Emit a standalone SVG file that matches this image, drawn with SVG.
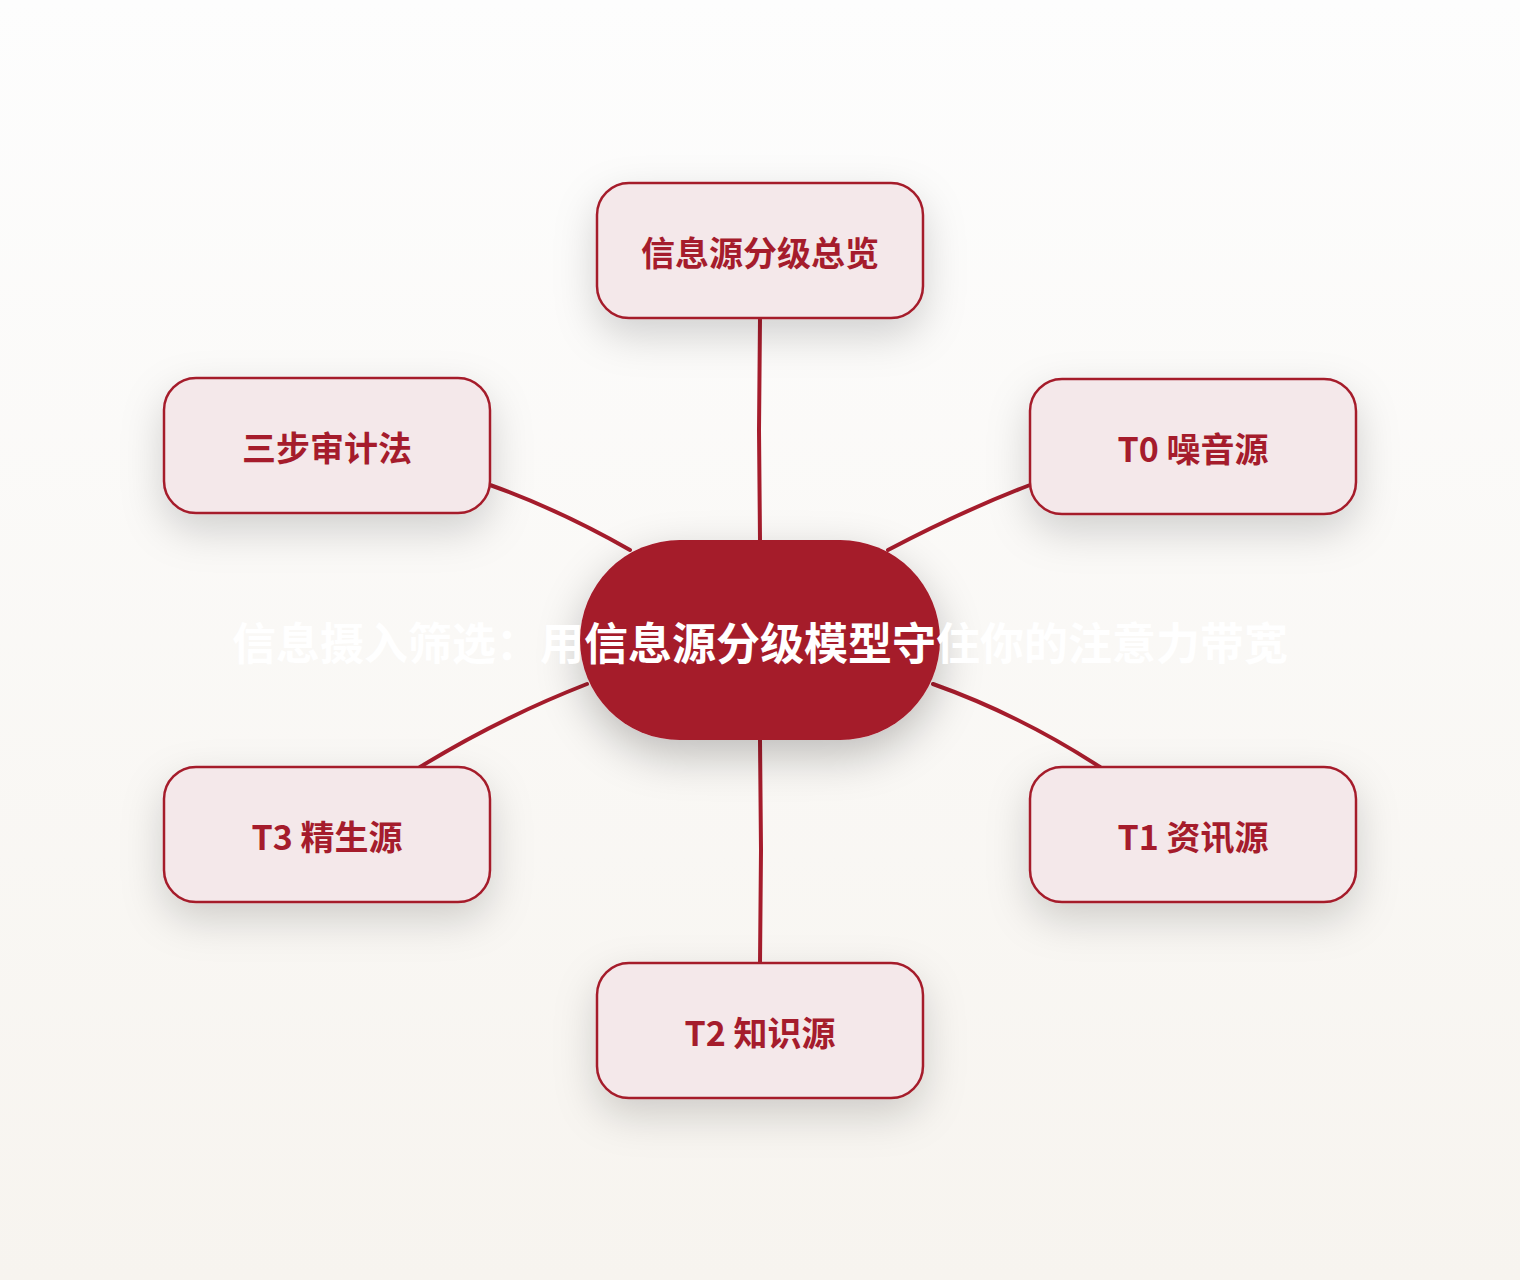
<svg xmlns="http://www.w3.org/2000/svg" width="1520" height="1280" viewBox="0 0 1520 1280">
<defs>
<linearGradient id="bg" x1="0" y1="0" x2="0" y2="1">
<stop offset="0" stop-color="#fdfdfd"/>
<stop offset="1" stop-color="#f7f4ef"/>
</linearGradient>
<filter id="sh" x="-40%" y="-40%" width="180%" height="200%">
<feDropShadow dx="0" dy="16" stdDeviation="20" flood-color="#000" flood-opacity="0.17"/>
</filter>
<filter id="shc" x="-40%" y="-40%" width="180%" height="200%">
<feDropShadow dx="0" dy="16" stdDeviation="22" flood-color="#000" flood-opacity="0.24"/>
</filter>
</defs>
<style>
.node rect{fill:#f4e8ea;stroke:#a51c2c;stroke-width:2.5;filter:url(#sh)}
.node text{fill:#a51c2c;font-family:"Noto Sans CJK SC","Noto Sans",sans-serif;font-weight:700;font-size:34px;text-anchor:middle;dominant-baseline:central}
.conn path{fill:none;stroke:#a51c2c;stroke-width:4;stroke-linecap:round}
.center rect{fill:#a51a2a;filter:url(#shc)}
.center text{fill:#ffffff;font-family:"Noto Sans CJK SC","Noto Sans",sans-serif;font-weight:700;font-size:44px;text-anchor:middle;dominant-baseline:central}
</style>
<rect width="1520" height="1280" fill="url(#bg)"/>
<g id="connectors" class="conn">
<path d="M760,318 L759,430 L760,540"/>
<path d="M490,485 Q560,510 630,550"/>
<path d="M1030,485 Q960,512 888,550"/>
<path d="M420,767 Q500,718 587,684"/>
<path d="M1100,767 Q1020,715 933,684"/>
<path d="M760,740 L761,850 L760,963"/>
</g>
<g id="n-top" class="node"><rect x="597" y="183" width="326" height="135" rx="32"/><text x="760" y="251">信息源分级总览</text></g>
<g id="n-audit" class="node"><rect x="164" y="378" width="326" height="135" rx="32"/><text x="327" y="446">三步审计法</text></g>
<g id="n-t0" class="node"><rect x="1030" y="379" width="326" height="135" rx="32"/><text x="1193" y="447">T0 噪音源</text></g>
<g id="n-t3" class="node"><rect x="164" y="767" width="326" height="135" rx="32"/><text x="327" y="835">T3 精生源</text></g>
<g id="n-t1" class="node"><rect x="1030" y="767" width="326" height="135" rx="32"/><text x="1193" y="835">T1 资讯源</text></g>
<g id="n-t2" class="node"><rect x="597" y="963" width="326" height="135" rx="32"/><text x="760" y="1031">T2 知识源</text></g>
<g id="n-center" class="center"><rect x="580" y="540" width="360" height="200" rx="100"/><text x="760" y="641">信息摄入筛选：用信息源分级模型守住你的注意力带宽</text></g>
</svg>
